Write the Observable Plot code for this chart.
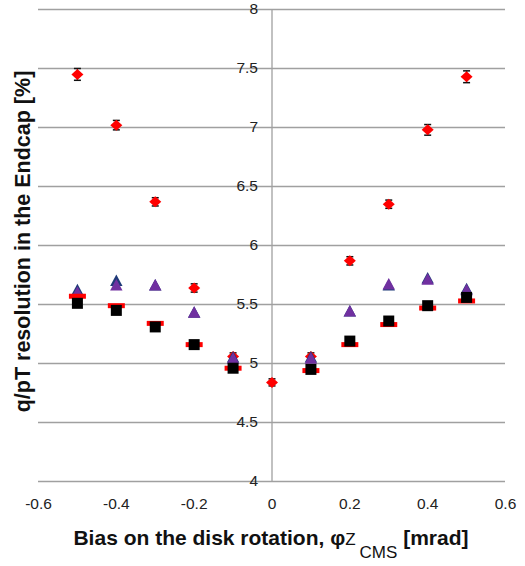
<!DOCTYPE html>
<html>
<head>
<meta charset="utf-8">
<script src="https://cdn.jsdelivr.net/npm/d3@7"></script>
<script src="https://cdn.jsdelivr.net/npm/@observablehq/plot@0.6"></script>
<style>
  html, body { margin: 0; padding: 0; background: #fff; }
  #chart { width: 525px; height: 566px; }
</style>
</head>
<body>
<div id="chart"></div>
<script>
// ---- data ----
const bias = [-0.5, -0.4, -0.3, -0.2, -0.1, 0, 0.1, 0.2, 0.3, 0.4, 0.5];
// red diamonds (with error bars)
const resDiamond = [7.45, 7.02, 6.37, 5.64, 5.06, 4.84, 5.06, 5.87, 6.35, 6.98, 7.43];
const errDiamond = [0.05, 0.04, 0.035, 0.035, 0.03, 0.03, 0.03, 0.035, 0.035, 0.045, 0.05];
// no value at 0 for the remaining series
const biasB = [-0.5, -0.4, -0.3, -0.2, -0.1, 0.1, 0.2, 0.3, 0.4, 0.5];
const resNavyTri = [5.62, 5.70, 5.66, 5.43, 5.05, 5.05, 5.44, 5.66, 5.72, 5.63];
const resPurpleTri = [5.60, 5.66, 5.66, 5.43, 5.04, 5.04, 5.44, 5.67, 5.71, 5.62];
const resRedDash = [5.57, 5.49, 5.34, 5.16, 4.96, 4.94, 5.16, 5.33, 5.47, 5.53];
const resBlackSq = [5.51, 5.45, 5.31, 5.16, 4.96, 4.95, 5.19, 5.36, 5.49, 5.56];

const yTicks = [4, 4.5, 5, 5.5, 6, 6.5, 7, 7.5, 8];
const yTickLabels = ["4", "4.5", "5", "5.5", "6", "6.5", "7", "7.5", "8"];
const xTicks = [-0.6, -0.4, -0.2, 0, 0.2, 0.4, 0.6];
const xTickLabels = ["-0.6", "-0.4", "-0.2", "0", "0.2", "0.4", "0.6"];

const yLabel = "q/pT resolution in the Endcap [%]";

// ---- build tables ----
const diamonds = bias.map((x, i) => ({x, y: resDiamond[i], lo: resDiamond[i] - errDiamond[i], hi: resDiamond[i] + errDiamond[i]}));
const mk = arr => biasB.map((x, i) => ({x, y: arr[i]}));

// custom symbols
const dashSymbol = {draw(ctx, size) { ctx.rect(-8.5, -2.5, 17, 5); }};
const capSymbol = {draw(ctx, size) { ctx.moveTo(-3.5, 0); ctx.lineTo(3.5, 0); }};
const squareSymbol = {draw(ctx, size) { ctx.rect(-5.5, -5.5, 11, 11); }};
const diamondSymbol = {draw(ctx, size) { ctx.moveTo(0, -5.5); ctx.lineTo(6, 0); ctx.lineTo(0, 5.5); ctx.lineTo(-6, 0); ctx.closePath(); }};
const triSymbol = {draw(ctx, size) { ctx.moveTo(0, -6.5); ctx.lineTo(6.2, 5); ctx.lineTo(-6.2, 5); ctx.closePath(); }};

const font = "'Liberation Sans', Arial, sans-serif";

const plot = Plot.plot({
  width: 525,
  height: 566,
  marginTop: 9,
  marginBottom: 85,
  marginLeft: 38,
  marginRight: 20,
  x: {domain: [-0.6, 0.6], axis: null},
  y: {domain: [4, 8], axis: null},
  style: {fontFamily: font, background: "#fff", overflow: "visible"},
  marks: [
    Plot.ruleY(yTicks, {stroke: "#a0a0a0", strokeWidth: 1.3}),
    Plot.ruleX([0], {stroke: "#a0a0a0", strokeWidth: 1.3}),
    Plot.text(yTicks, {x: 0, y: d => d, text: (d, i) => yTickLabels[i], dx: -14, textAnchor: "end", fontSize: 15.5, fill: "#222"}),
    Plot.text(xTicks, {x: d => d, y: 4, text: (d, i) => xTickLabels[i], dy: 23, fontSize: 15.5, fill: "#222"}),
    Plot.text([yLabel], {frameAnchor: "left", textAnchor: "middle", rotate: -90, dx: -15, dy: -4, fontSize: 21.5, fontWeight: "bold", fill: "#111"}),
    // error bars on red diamonds
    Plot.link(diamonds, {x1: "x", x2: "x", y1: "lo", y2: "hi", stroke: "#111", strokeWidth: 1.2}),
    Plot.dot(diamonds, {x: "x", y: "lo", symbol: capSymbol, stroke: "#111", strokeWidth: 1.5}),
    Plot.dot(diamonds, {x: "x", y: "hi", symbol: capSymbol, stroke: "#111", strokeWidth: 1.5}),
    Plot.dot(diamonds, {x: "x", y: "y", symbol: diamondSymbol, fill: "#ff0000", stroke: "none"}),
    Plot.dot(mk(resNavyTri), {x: "x", y: "y", symbol: triSymbol, fill: "#1f3a78", stroke: "none"}),
    Plot.dot(mk(resPurpleTri), {x: "x", y: "y", symbol: triSymbol, fill: "#7030a0", stroke: "none"}),
    Plot.dot(mk(resRedDash), {x: "x", y: "y", symbol: dashSymbol, fill: "#ff0000", stroke: "none"}),
    Plot.dot(mk(resBlackSq), {x: "x", y: "y", symbol: squareSymbol, fill: "#000", stroke: "none"})
  ]
});

document.getElementById("chart").appendChild(plot);

// x-axis title with sub-scripts
const svg = d3.select(plot);
const t = svg.append("text")
  .attr("x", 271).attr("y", 545)
  .attr("text-anchor", "middle")
  .attr("font-family", font)
  .attr("font-size", 21)
  .attr("font-weight", "bold")
  .attr("fill", "#111");
t.append("tspan").text("Bias on the disk rotation, φ");
t.append("tspan").attr("font-weight", "normal").attr("font-size", 17).text("Z");
t.append("tspan").attr("font-weight", "normal").attr("font-size", 17).attr("dx", 4).attr("dy", 13).text("CMS");
t.append("tspan").attr("dy", -13).text(" [mrad]");
</script>
</body>
</html>
